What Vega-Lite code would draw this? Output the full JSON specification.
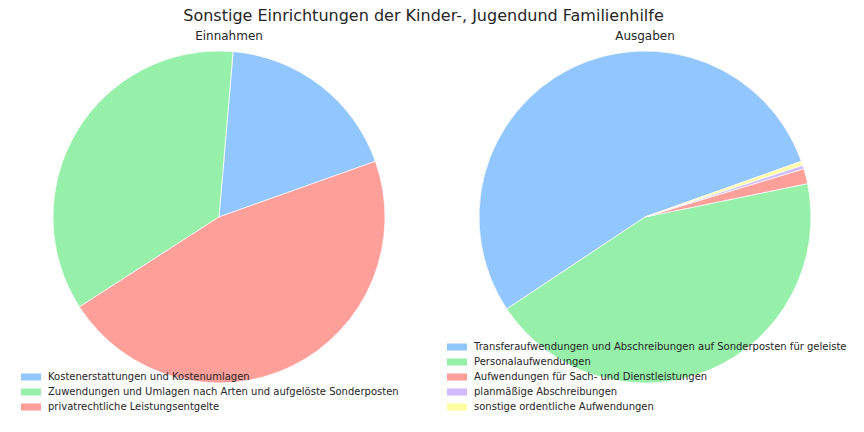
{
  "$schema": "https://vega.github.io/schema/vega-lite/v6.json",
  "padding": {"left": 0, "top": 7, "right": 0, "bottom": 0},
  "background": "white",
  "title": {"text": "Sonstige Einrichtungen der Kinder-, Jugendund Familienhilfe", "fontSize": 16, "fontWeight": "normal", "font": "DejaVu Sans", "color": "#262626", "anchor": "middle", "baseline": "top", "offset": 6, "dx": 0},
  "spacing": 6,
  "resolve": {"scale": {"color": "independent", "theta": "independent"}, "legend": {"color": "independent"}},
  "hconcat": [
    {
      "width": 438,
      "height": 332,
      "title": {"text": "Einnahmen", "fontSize": 12, "fontWeight": "normal", "font": "DejaVu Sans", "color": "#262626", "anchor": "middle", "baseline": "top", "offset": 7, "dx": 10},
      "data": {"values": [
        {"idx": 1, "kategorie": "Kostenerstattungen und Kostenumlagen", "anteil": 18.2},
        {"idx": 2, "kategorie": "Zuwendungen und Umlagen nach Arten und aufgelöste Sonderposten", "anteil": 35.46},
        {"idx": 3, "kategorie": "privatrechtliche Leistungsentgelte", "anteil": 46.33}
      ]},
      "mark": {"type": "arc", "outerRadius": 166, "stroke": "white", "strokeWidth": 0.7},
      "encoding": {
        "theta": {"field": "anteil", "type": "quantitative", "stack": true, "scale": {"range": [1.2287, -5.0545]}},
        "order": {"field": "idx", "type": "quantitative"},
        "color": {
          "field": "kategorie", "type": "nominal",
          "scale": {"domain": ["Kostenerstattungen und Kostenumlagen", "Zuwendungen und Umlagen nach Arten und aufgelöste Sonderposten", "privatrechtliche Leistungsentgelte"], "range": ["#92C6FF", "#97F0AA", "#FF9F9A"]},
          "legend": {"orient": "none", "legendX": 26, "legendY": 321, "title": null, "padding": 0, "symbolType": "M-2.5,-0.875L2.5,-0.875L2.5,0.875L-2.5,0.875Z", "symbolSize": 64, "symbolStrokeWidth": 0, "symbolOpacity": 1, "labelFontSize": 10, "labelFont": "DejaVu Sans", "labelColor": "#262626", "labelOffset": 12, "rowPadding": 5, "labelLimit": 600}
        }
      }
    },
    {
      "width": 402,
      "height": 332,
      "title": {"text": "Ausgaben", "fontSize": 12, "fontWeight": "normal", "font": "DejaVu Sans", "color": "#262626", "anchor": "middle", "baseline": "top", "offset": 7},
      "data": {"values": [
        {"idx": 1, "kategorie": "Transferaufwendungen und Abschreibungen auf Sonderposten für geleiste", "anteil": 53.9},
        {"idx": 2, "kategorie": "Personalaufwendungen", "anteil": 43.88},
        {"idx": 3, "kategorie": "Aufwendungen für Sach- und Dienstleistungen", "anteil": 1.47},
        {"idx": 4, "kategorie": "planmäßige Abschreibungen", "anteil": 0.36},
        {"idx": 5, "kategorie": "sonstige ordentliche Aufwendungen", "anteil": 0.39}
      ]},
      "mark": {"type": "arc", "outerRadius": 166, "stroke": "white", "strokeWidth": 0.7},
      "encoding": {
        "theta": {"field": "anteil", "type": "quantitative", "stack": true, "scale": {"range": [1.2287, -5.0545]}},
        "order": {"field": "idx", "type": "quantitative"},
        "color": {
          "field": "kategorie", "type": "nominal",
          "scale": {"domain": ["Transferaufwendungen und Abschreibungen auf Sonderposten für geleiste", "Personalaufwendungen", "Aufwendungen für Sach- und Dienstleistungen", "planmäßige Abschreibungen", "sonstige ordentliche Aufwendungen"], "range": ["#92C6FF", "#97F0AA", "#FF9F9A", "#D0BBFF", "#FFFEA3"]},
          "legend": {"orient": "none", "legendX": 8, "legendY": 291, "title": null, "padding": 0, "symbolType": "M-2.5,-0.875L2.5,-0.875L2.5,0.875L-2.5,0.875Z", "symbolSize": 64, "symbolStrokeWidth": 0, "symbolOpacity": 1, "labelFontSize": 10, "labelFont": "DejaVu Sans", "labelColor": "#262626", "labelOffset": 12, "rowPadding": 5, "labelLimit": 600}
        }
      }
    }
  ],
  "config": {"view": {"stroke": null}, "font": "DejaVu Sans"}
}
